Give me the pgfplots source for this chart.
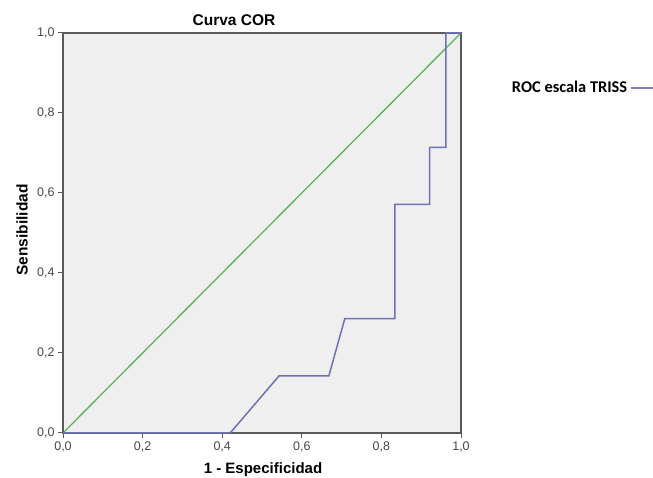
\documentclass[border=0pt]{standalone}
\usepackage{fontspec}
\setmainfont{Liberation Sans}
\newfontfamily\carlito{Carlito}
\usepackage{pgfplots}
\pgfplotsset{compat=1.18}
\definecolor{bgray}{HTML}{EFEFEF}
\definecolor{axgray}{HTML}{5A5A5A}
\definecolor{rocblue}{HTML}{6D72B5}
\definecolor{refgreen}{HTML}{5BB35B}
\begin{document}
\begin{tikzpicture}
\useasboundingbox (0,0) rectangle (653pt,478pt);
\begin{axis}[
 at={(63pt,45pt)}, anchor=south west,
 width=398pt, height=400pt, scale only axis,
 xmin=0, xmax=1, ymin=0, ymax=1,
 xtick={0,0.2,0.4,0.6,0.8,1}, ytick={0,0.2,0.4,0.6,0.8,1},
 xtick pos=left, ytick pos=left,
 tick align=outside, major tick length=5pt,
 axis line style={axgray, line width=1.4pt},
 tick style={axgray, line width=1pt},
 axis background/.style={fill=bgray},
 ticklabel style={font=\fontsize{12.5}{14}\selectfont, text=black!72},
 /pgf/number format/fixed, /pgf/number format/fixed zerofill,
 /pgf/number format/precision=1, /pgf/number format/use comma,
 /pgf/number format/assume math mode=true,
 clip=false,
 legend style={at={(1.115,0.8625)}, anchor=west, draw=none, fill=none,
   font=\carlito\bfseries\fontsize{16.4}{19}\selectfont},
 legend plot pos=right,
 legend image code/.code={\draw[line width=2.8pt, rocblue!90] (0cm,0cm) -- (0.8cm,0cm);},
]
\addplot[refgreen, line width=1.3pt, forget plot] coordinates {(0,0) (1,1)};
\addplot[rocblue, line width=1.5pt] coordinates {
 (0,0) (0.42,0) (0.543,0.1429) (0.668,0.1429) (0.708,0.2857) (0.834,0.2857)
 (0.834,0.5714) (0.921,0.5714) (0.921,0.7143) (0.962,0.7143) (0.962,1) (1,1)};
\addlegendentry{ROC escala TRISS}
\end{axis}
\node[font=\bfseries\fontsize{15.5}{18}\selectfont] at (234pt,458pt) {Curva COR};
\node[font=\bfseries\fontsize{15}{18}\selectfont] at (263pt,8pt) {1 - Especificidad};
\node[font=\bfseries\fontsize{15.5}{18}\selectfont, rotate=90] at (22pt,248pt) {Sensibilidad};
\end{tikzpicture}
\end{document}
